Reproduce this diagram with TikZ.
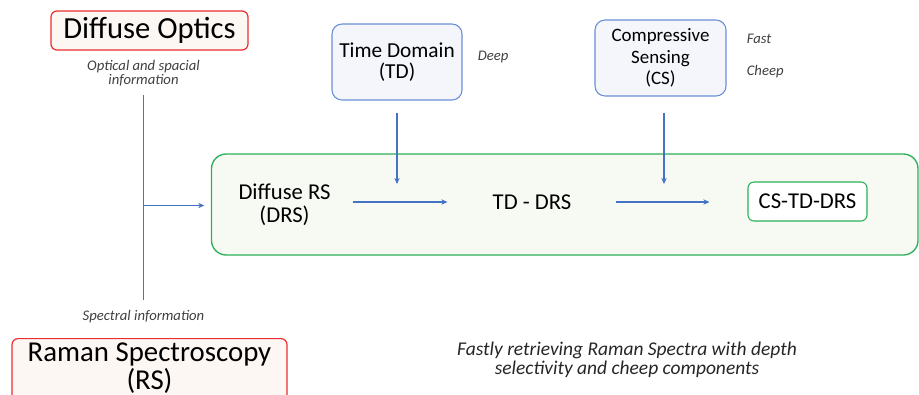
\documentclass[tikz,border=0pt]{standalone}
\usepackage{fontspec}
\setmainfont{Carlito}
\usetikzlibrary{positioning,arrows.meta}
\definecolor{optred}{RGB}{236,45,45}
\definecolor{optfill}{RGB}{252,247,243}
\definecolor{tdblue}{RGB}{104,142,214}
\definecolor{tdfill}{RGB}{244,246,252}
\definecolor{drsgreen}{RGB}{44,176,88}
\definecolor{drsfill}{RGB}{246,250,243}
\definecolor{flow}{RGB}{68,114,196}
\definecolor{notegray}{RGB}{64,64,64}

\begin{document}
\begin{tikzpicture}[x=0.75pt, y=-0.75pt,
  field/.style={draw=optred, fill=optfill, rounded corners=4.5pt, line width=0.9pt,
                align=center, inner xsep=0pt},
  method/.style={draw=tdblue, fill=tdfill, rounded corners=7.5pt, line width=0.8pt,
                 minimum width=97.5pt, minimum height=57pt, align=center, inner sep=0pt},
  stage/.style={align=center, inner sep=0pt, font=\fontsize{17pt}{17.25pt}\selectfont},
  note/.style={align=center, inner sep=0pt, text=notegray,
               font=\fontsize{11pt}{9pt}\selectfont\itshape},
  flowline/.style={draw=flow, line width=1pt},
  flowarrow/.style={flowline, -{Stealth[length=1.6mm, width=1.4mm]}},
  ]
  \clip (0,0) rectangle (919,394);

  % the two fields
  \node[field, minimum width=147.75pt, minimum height=29.25pt, inner ysep=0pt,
        font=\fontsize{23pt}{23pt}\selectfont] (do) at (149.5,30.5) {Diffuse Optics};
  \node[field, minimum width=206.25pt, anchor=north, inner ysep=3.5pt,
        font=\fontsize{21.6pt}{17.5pt}\selectfont] (rs) at (149.5,338)
    {Raman Spectroscopy\\(RS)\\[24pt]};
  \node[note] (optinfo) at (143.5,73) {Optical and spacial\\information};
  \node[note] (specinfo) at (143.5,317) {Spectral information};

  % techniques
  \node[method, font=\fontsize{16pt}{15.75pt}\selectfont] (td) at (397,62)
    {Time Domain\\(TD)};
  \node[method, minimum width=98.25pt, font=\fontsize{14.2pt}{16pt}\selectfont] (cs)
    at (660.5,58) {Compressive\\Sensing\\(CS)};
  \node[note, right=11.25pt of td, yshift=3.75pt] (deep) {Deep};
  \node[note, right=15pt of cs, yshift=14.25pt] (fast) {Fast};
  \node[note, right=15pt of cs, yshift=-10.5pt] (cheep) {Cheep};

  % pipeline
  \node[draw=drsgreen, fill=drsfill, line width=1pt, rounded corners=11pt,
        minimum width=529.9pt, minimum height=75.75pt] (pipe) at (564.75,204.5) {};
  \node[stage] (drs) at (284.5,204.5) {Diffuse RS\\(DRS)};
  \node[stage] (tddrs) at (532,202) {TD - DRS};
  \node[stage, draw=drsgreen, fill=white, rounded corners=4.5pt, line width=0.8pt,
        minimum width=89.25pt, minimum height=29.25pt] (cstddrs) at (807.5,201.5)
    {CS-TD-DRS};

  \node[align=center, inner sep=0pt, text=black!85,
        font=\fontsize{14.6pt}{14.25pt}\selectfont\itshape] (aim) at (627,359.5)
    {Fastly retrieving Raman Spectra with depth\\selectivity and cheep components};

  \coordinate (split) at (143.5,205.5);
  \coordinate (tdin) at (397,184);
  \coordinate (csin) at (664,184);

  \draw[flowline, shorten <=6.75pt, shorten >=8pt] (optinfo) -- (specinfo);
  \draw[flowarrow, shorten >=4.9pt] (split) -- (split -| pipe.west);
  \draw[flowarrow, shorten <=9pt] (td) -- (tdin);
  \draw[flowarrow, shorten <=12pt] (cs.south -| csin) -- (csin);
  \draw[flowarrow, shorten <=16.5pt, shorten >=33.75pt] (drs.east |- tddrs) -- (tddrs.west);
  \draw[flowarrow, shorten <=33pt, shorten >=28.5pt] (tddrs.east) -- (cstddrs.west |- tddrs);
\end{tikzpicture}
\end{document}
